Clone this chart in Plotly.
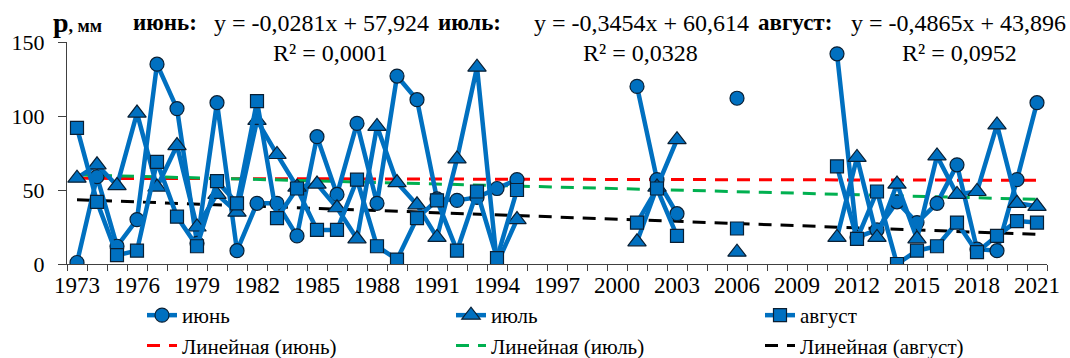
import plotly.graph_objects as go

years = list(range(1973, 2022))
N = None
june = [1, 59, 12, 30, 135, 105, 14, 109, 9, 41, 41, 19, 86, 47, 95, 41, 127, 111, 44, 43, 45, 51, 57,
        N, N, N, N, N, 120, 57, 34, N, N, 112, N, N, N, N,
        142, 18, 23, 42, 28, 41, 67, 10, 9, 57, 109]
july = [58, 67, 53, 102, 52, 80, 25, 47, 35, 97, 74, 52, 54, 38, 17, 93, 55, 40, 18, 71, 133, 0, 30,
        N, N, N, N, N, 15, 52, 84, N, N, 8, N, N, N, N,
        18, 72, 18, 54, 17, 73, 47, 49, 94, 41, 39]
august = [92, 42, 6, 9, 69, 32, 12, 56, 41, 110, 31, 51, 23, 23, 57, 12, 3, 31, 43, 9, 49, 4, 50,
          N, N, N, N, N, 28, 51, 19, N, N, 24, N, N, N, N,
          66, 17, 49, 0, 9, 12, 28, 8, 19, 29, 28]

series_names = ["июнь", "июль", "август"]
trend_names = ["Линейная (июнь)", "Линейная (июль)", "Линейная (август)"]
slopes = [-0.0281, -0.3454, -0.4865]
intercepts = [57.924, 60.614, 43.896]
r2 = ["0,0001", "0,0328", "0,0952"]
eq_text = ["y = -0,0281x + 57,924", "y = -0,3454x + 60,614", "y = -0,4865x + 43,896"]
month_labels = ["июнь:", "июль:", "август:"]

BLUE = "#0070C0"
FONT = "'Liberation Serif', Tinos, 'Times New Roman', serif"
trend_colors = ["#FF0000", "#00B050", "#000000"]
symbols = ["circle", "triangle-up", "square"]
sizes = [14, 16, 13]

fig = go.Figure()

# trend lines (Excel-style: x = 1..N index)
idx = list(range(1, len(years) + 1))
for i in range(3):
    yt = [slopes[i] * k + intercepts[i] for k in idx]
    fig.add_trace(go.Scatter(
        x=years, y=yt, mode="lines", name=trend_names[i],
        line=dict(color=trend_colors[i], width=3, dash="13px,9px"),
        legendrank=4 + i, hoverinfo="skip"))

for i, data in enumerate([june, july, august]):
    fig.add_trace(go.Scatter(
        x=years, y=data, mode="lines+markers", name=series_names[i],
        connectgaps=False,
        line=dict(color=BLUE, width=4.5),
        marker=dict(symbol=symbols[i], size=sizes[i], color=BLUE,
                    line=dict(color="#0A1F33", width=1.2)),
        legendrank=1 + i))

L, R, T, B = 67, 23, 42, 94
W, H = 1070, 358
pw, ph = W - L - R, H - T - B

def px(x):
    return (x - L) / pw

def py(y):
    return (H - B - y) / ph

ann = []
ann.append(dict(x=px(51), y=py(22), xref="paper", yref="paper", xanchor="left", yanchor="middle",
                showarrow=False,
                text="<b><span style='font-size:28px'>р</span>, мм</b>",
                font=dict(family=FONT, size=18, color="black")))
eq_left = [212, 532, 849]
lab_left = [131, 436, 756]
r2_center = [330, 640, 959]
for i in range(3):
    ann.append(dict(x=px(lab_left[i]), y=py(23), xref="paper", yref="paper", xanchor="left",
                    yanchor="middle", showarrow=False, text="<b>" + month_labels[i] + "</b>",
                    font=dict(family=FONT, size=23, color="black")))
    ann.append(dict(x=px(eq_left[i]), y=py(23), xref="paper", yref="paper", xanchor="left",
                    yanchor="middle", showarrow=False, text=eq_text[i],
                    font=dict(family=FONT, size=24, color="black")))
    ann.append(dict(x=px(r2_center[i]), y=py(53), xref="paper", yref="paper", xanchor="center",
                    yanchor="middle", showarrow=False, text="R² = " + r2[i],
                    font=dict(family=FONT, size=24, color="black")))

fig.update_layout(
    width=W, height=H,
    margin=dict(l=L, r=R, t=T, b=B, autoexpand=False),
    paper_bgcolor="white", plot_bgcolor="white",
    font=dict(family=FONT, size=22, color="black"),
    showlegend=True,
    legend=dict(orientation="h", x=px(142), y=py(295), xanchor="left", yanchor="top",
                entrywidth=264, entrywidthmode="pixels", font=dict(family=FONT, size=21),
                tracegroupgap=0, itemwidth=30, bgcolor="rgba(0,0,0,0)"),
    annotations=ann,
    xaxis=dict(range=[1972.5, 2021.5], tickmode="linear", tick0=1973, dtick=3,
               ticks="", showgrid=False, zeroline=False, showline=True,
               linecolor="#404040", linewidth=1,
               tickfont=dict(family=FONT, size=23, color="black"),
               minor=dict(tick0=1972.5, dtick=1, ticks="outside", ticklen=6,
                          tickcolor="#404040", showgrid=False)),
    yaxis=dict(range=[0, 150], tickmode="linear", tick0=0, dtick=50, ticks="outside",
               ticklen=8, tickcolor="#404040", showgrid=False, zeroline=False,
               showline=True, linecolor="#404040", linewidth=1, ticklabelstandoff=9,
               tickfont=dict(family=FONT, size=22, color="black")),
)

fig.write_html("out.html", config={"displayModeBar": False},
               post_script="document.body.style.margin='0px';")
